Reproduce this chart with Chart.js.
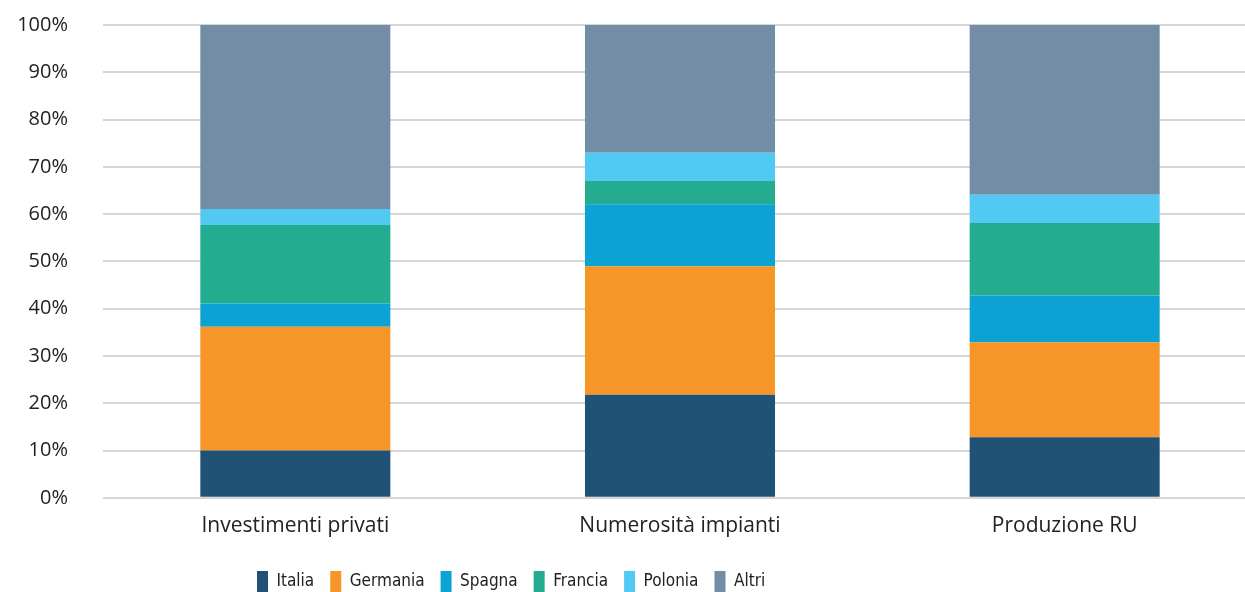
<!DOCTYPE html>
<html lang="it">
<head>
    <meta charset="UTF-8">
    <title>Quote per paese</title>
    <script src="https://cdn.jsdelivr.net/npm/chart.js"></script>
    <style>
        * {
            margin: 0;
            padding: 0;
            box-sizing: border-box;
        }

        body {
            background: #ffffff;
            overflow: hidden;
            width: 1245px;
            height: 592px;
        }

        .chart-wrap {
            position: relative;
            width: 1257px;
            height: 595px;
        }
    </style>
</head>
<body>
    <div class="chart-wrap">
        <canvas id="shareChart"></canvas>
    </div>

    <script>
        // Data (percent shares)
        const categories = ['Investimenti privati', 'Numerosità impianti', 'Produzione RU'];
        const italia   = [10.0, 21.8, 12.8];
        const germania = [26.2, 27.2, 20.1];
        const spagna   = [4.9, 13.1, 9.9];
        const francia  = [16.6, 4.9, 15.3];
        const polonia  = [3.4, 6.0, 6.0];
        const altri    = [38.9, 27.0, 35.9];
        const yTicks   = [0, 10, 20, 30, 40, 50, 60, 70, 80, 90, 100];

        const fontFamily = "'Open Sans', 'Noto Sans', sans-serif";
        const legendFamily = "'DejaVu Sans Condensed', 'Open Sans', sans-serif";
        const textColor = '#222222';

        const series = [
            { label: 'Italia',   data: italia,   color: '#1f5275' },
            { label: 'Germania', data: germania, color: '#f79628' },
            { label: 'Spagna',   data: spagna,   color: '#0ca2d4' },
            { label: 'Francia',  data: francia,  color: '#23ac8f' },
            { label: 'Polonia',  data: polonia,  color: '#52c9f3' },
            { label: 'Altri',    data: altri,    color: '#748da6' }
        ];

        // the legend sits left of centre and half cut off in the original
        const legendShift = {
            id: 'legendShift',
            afterLayout(chart) {
                const pad = chart.legend.options.labels.padding;
                chart.legend.left = 257 - pad;
                chart.legend.top = 571 - pad;
            }
        };

        const ctx = document.getElementById('shareChart').getContext('2d');

        new Chart(ctx, {
            type: 'bar',
            data: {
                labels: categories,
                datasets: series.map(s => ({
                    label: s.label,
                    data: s.data,
                    backgroundColor: s.color,
                    borderWidth: 0,
                    categoryPercentage: 1,
                    barPercentage: 0.494
                }))
            },
            options: {
                responsive: true,
                maintainAspectRatio: false,
                animation: false,
                layout: {
                    padding: { top: 25, left: 0, right: 0, bottom: 0 }
                },
                plugins: {
                    tooltip: { enabled: false },
                    legend: {
                        position: 'bottom',
                        align: 'start',
                        labels: {
                            boxWidth: 11,
                            boxHeight: 22,
                            padding: 16,
                            color: textColor,
                            font: { family: legendFamily, size: 17 }
                        }
                    }
                },
                scales: {
                    x: {
                        stacked: true,
                        grid: { display: false },
                        border: { display: false },
                        ticks: {
                            color: textColor,
                            padding: 8,
                            font: { family: fontFamily, size: 21 }
                        }
                    },
                    y: {
                        stacked: true,
                        min: 0,
                        max: 100,
                        afterFit: axis => {
                            axis.width = 103;
                            axis.paddingTop = 0;
                            axis.paddingBottom = 0;
                        },
                        afterBuildTicks: axis => {
                            axis.ticks = yTicks.map(v => ({ value: v }));
                        },
                        grid: {
                            color: '#d6d6d6',
                            lineWidth: 2,
                            drawTicks: false
                        },
                        border: { display: false },
                        ticks: {
                            color: textColor,
                            padding: 35,
                            font: { family: fontFamily, size: 20 },
                            callback: v => v + '%'
                        }
                    }
                }
            },
            plugins: [legendShift]
        });
    </script>
</body>
</html>
